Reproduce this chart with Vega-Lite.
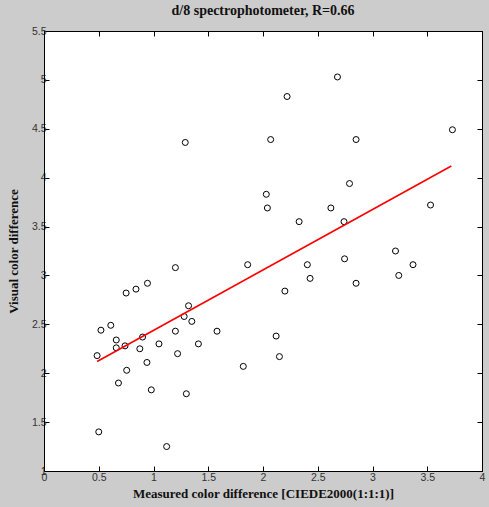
{
  "$schema": "https://vega.github.io/schema/vega-lite/v6.json",
  "autosize": "none",
  "width": 438,
  "height": 440,
  "padding": {"left": 44, "top": 31, "right": 7, "bottom": 36},
  "background": "#cccccc",
  "config": {
    "view": {"fill": "white", "stroke": "black", "strokeWidth": 1},
    "axis": {
      "domainColor": "black",
      "tickColor": "black",
      "tickSize": -5,
      "grid": false,
      "labelFont": "Liberation Sans",
      "labelFontSize": 10.5,
      "labelColor": "#333333",
      "titleFont": "Liberation Serif",
      "titleFontSize": 13,
      "titleFontWeight": "bold",
      "titleColor": "#111111"
    }
  },
  "title": {
    "text": "d/8 spectrophotometer, R=0.66",
    "font": "Liberation Serif",
    "fontSize": 14,
    "fontWeight": "bold",
    "color": "#111111",
    "offset": 8
  },
  "datasets": {
    "pts": [
      {"measured": 1.29, "visual": 4.36},
      {"measured": 2.68, "visual": 5.03},
      {"measured": 2.22, "visual": 4.83},
      {"measured": 2.07, "visual": 4.39},
      {"measured": 2.85, "visual": 4.39},
      {"measured": 3.73, "visual": 4.49},
      {"measured": 2.79, "visual": 3.94},
      {"measured": 2.03, "visual": 3.83},
      {"measured": 2.04, "visual": 3.69},
      {"measured": 2.62, "visual": 3.69},
      {"measured": 2.33, "visual": 3.55},
      {"measured": 2.74, "visual": 3.55},
      {"measured": 3.53, "visual": 3.72},
      {"measured": 1.20, "visual": 3.08},
      {"measured": 1.86, "visual": 3.11},
      {"measured": 0.945, "visual": 2.92},
      {"measured": 0.84, "visual": 2.86},
      {"measured": 0.75, "visual": 2.82},
      {"measured": 1.32, "visual": 2.69},
      {"measured": 1.28, "visual": 2.58},
      {"measured": 1.35, "visual": 2.53},
      {"measured": 0.61, "visual": 2.49},
      {"measured": 0.52, "visual": 2.44},
      {"measured": 1.20, "visual": 2.43},
      {"measured": 1.58, "visual": 2.43},
      {"measured": 0.66, "visual": 2.34},
      {"measured": 0.90, "visual": 2.37},
      {"measured": 0.66, "visual": 2.26},
      {"measured": 0.74, "visual": 2.28},
      {"measured": 0.875, "visual": 2.25},
      {"measured": 1.05, "visual": 2.30},
      {"measured": 1.41, "visual": 2.30},
      {"measured": 0.485, "visual": 2.18},
      {"measured": 1.22, "visual": 2.20},
      {"measured": 0.94, "visual": 2.11},
      {"measured": 1.82, "visual": 2.07},
      {"measured": 0.755, "visual": 2.03},
      {"measured": 0.68, "visual": 1.90},
      {"measured": 0.98, "visual": 1.83},
      {"measured": 1.30, "visual": 1.79},
      {"measured": 0.50, "visual": 1.40},
      {"measured": 1.12, "visual": 1.25},
      {"measured": 2.405, "visual": 3.11},
      {"measured": 2.745, "visual": 3.17},
      {"measured": 3.21, "visual": 3.25},
      {"measured": 3.37, "visual": 3.11},
      {"measured": 2.43, "visual": 2.97},
      {"measured": 3.24, "visual": 3.00},
      {"measured": 2.85, "visual": 2.92},
      {"measured": 2.20, "visual": 2.84},
      {"measured": 2.12, "visual": 2.38},
      {"measured": 2.15, "visual": 2.17}
    ],
    "fit": [
      {"measured": 0.485, "visual": 2.12},
      {"measured": 3.72, "visual": 4.12}
    ]
  },
  "layer": [
    {
      "data": {"name": "pts"},
      "mark": {"type": "point", "shape": "circle", "filled": false, "size": 36, "stroke": "black", "strokeWidth": 1, "opacity": 1},
      "encoding": {
        "x": {
          "field": "measured", "type": "quantitative",
          "scale": {"domain": [0, 4], "nice": false, "zero": false},
          "axis": {"orient": "bottom", "values": [0, 0.5, 1, 1.5, 2, 2.5, 3, 3.5, 4], "format": "~g", "labelPadding": 6, "title": "Measured color difference [CIEDE2000(1:1:1)]", "titlePadding": 5, "labelFlush": false}
        },
        "y": {
          "field": "visual", "type": "quantitative",
          "scale": {"domain": [1, 5.5], "nice": false, "zero": false},
          "axis": {"orient": "left", "values": [1, 1.5, 2, 2.5, 3, 3.5, 4, 4.5, 5, 5.5], "format": "~g", "labelPadding": 3, "title": "Visual color difference", "titlePadding": 11, "labelFlush": false}
        }
      }
    },
    {
      "data": {"name": "fit"},
      "mark": {"type": "line", "color": "#ff0000", "strokeWidth": 1.6},
      "encoding": {
        "x": {
          "field": "measured", "type": "quantitative",
          "scale": {"domain": [0, 4], "nice": false, "zero": false},
          "axis": {"orient": "top", "values": [0, 0.5, 1, 1.5, 2, 2.5, 3, 3.5, 4], "labels": false, "title": null}
        },
        "y": {
          "field": "visual", "type": "quantitative",
          "scale": {"domain": [1, 5.5], "nice": false, "zero": false},
          "axis": {"orient": "right", "values": [1, 1.5, 2, 2.5, 3, 3.5, 4, 4.5, 5, 5.5], "labels": false, "title": null}
        }
      }
    }
  ],
  "resolve": {"axis": {"x": "independent", "y": "independent"}}
}
